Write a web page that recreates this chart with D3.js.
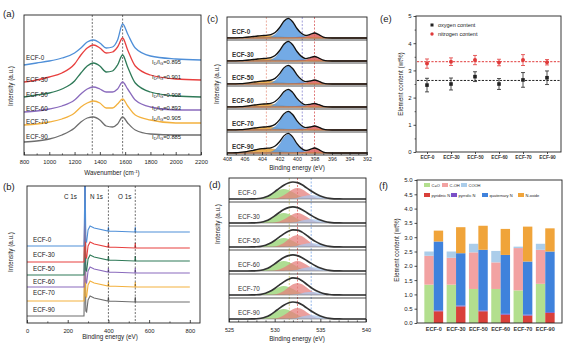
<!DOCTYPE html>
<html><head><meta charset="utf-8">
<script src="https://cdn.jsdelivr.net/npm/d3@7/dist/d3.min.js"></script>
<style>
body{margin:0;background:#fff}
svg{display:block}
text{font-family:"Liberation Sans",Arial,sans-serif;fill:#222}
</style>
</head><body>
<svg id="chart" width="576" height="348"></svg>
<script>
// ---------------- DATA ----------------
const samples = ["ECF-0","ECF-30","ECF-50","ECF-60","ECF-70","ECF-90"];

// (a) Raman spectra (intensity, a.u., offset stacked)
const ramanX = [800,900,1000,1100,1200,1250,1300,1350,1400,1450,1500,1540,1580,1620,1680,1800,2000,2200];
const ramanECF0  = [90,92,94,97,102,107,113,115,112,107,108,115,131,121,107,99,96,95];
const ramanECF30 = [73,75,78,82,91,100,107,110,107,102,103,108,117,105,89,80,76,75];
const ramanECF50 = [58,60,62,66,74,82,89,92,89,83,84,90,100,88,72,63,59,58];
const ramanECF60 = [43,44,46,49,55,61,66,68,66,63,63,66,73,66,55,48,45,45];
const ramanECF70 = [30,31,33,36,42,48,52,54,52,47,47,51,56,49,40,35,32,32];
const ramanECF90 = [13,14,16,20,27,33,37,38,35,29,28,31,38,32,25,21,20,20];
const idigRatios = ["0.895","0.901","0.908","0.893","0.905","0.885"];
const ramanTicks = [800,1000,1200,1400,1600,1800,2000,2200];
const ramanBands = [1340,1580];

// (b) XPS survey: common profile + per-sample offsets
const surveyX = [0,280,283,285,287,289,293,300,310,330,398,400,402,530,532,534,800];
const surveyProfile = [0,0,40,200,40,5,4,16,20,18,15,19,15,14,19,14,14];
const surveyOffsets = [77,61,48,36,22,7];
const surveyTicks = [0,200,400,600,800];
const surveyLines = [400,532];
const surveyPeakLabels = [["C 1s",64],["N 1s",90],["O 1s",118]];

// (c) N 1s fitted components on a 0.5 eV grid (408 -> 392)
const n1sX = [408,407.5,407,406.5,406,405.5,405,404.5,404,403.5,403,402.5,402,401.5,401,400.5,400,399.5,399,398.5,398,397.5,397,396.5,396,395.5,395,394.5,394,393.5,393,392.5,392];
const n1sOxideShape = [0.01,0.03,0.06,0.13,0.24,0.40,0.60,0.80,0.95,1,0.95,0.80,0.60,0.40,0.24,0.13,0.06,0.03,0.01,0,0,0,0,0,0,0,0,0,0,0,0,0,0];
const n1sQuatShape  = [0,0,0,0,0,0,0,0,0,0.01,0.05,0.18,0.46,0.83,1,0.83,0.46,0.18,0.05,0.01,0,0,0,0,0,0,0,0,0,0,0,0,0];
const n1sPyrrShape  = [0,0,0,0,0,0,0,0,0,0,0,0,0,0,0,0.17,0.6,1,0.6,0.17,0.02,0,0,0,0,0,0,0,0,0,0,0,0];
const n1sPyriShape  = [0,0,0,0,0,0,0,0,0,0,0,0,0,0,0,0,0,0.03,0.19,0.66,1,0.66,0.19,0.03,0,0,0,0,0,0,0,0,0];
const n1sOxideH = [2.5,2.5,3,3,3,4.5];
const n1sQuatH  = [19,19,18,17,18,18.5];
const n1sPyrrH  = [1,1,1,1,1,1];
const n1sPyriH  = [5,4.5,4,3.5,4,5];
const n1sTicks = [408,406,404,402,400,398,396,394,392];
const n1sLines = [403.5,399.4,398.0];

// (d) O 1s fitted components on a 0.5 eV grid (525 -> 540)
const o1sX = [525,525.5,526,526.5,527,527.5,528,528.5,529,529.5,530,530.5,531,531.5,532,532.5,533,533.5,534,534.5,535,535.5,536,536.5,537,537.5,538,538.5,539,539.5,540];
const o1sCOShape   = [0,0,0,0,0.001,0.007,0.025,0.077,0.194,0.397,0.664,0.902,1,0.902,0.664,0.397,0.194,0.077,0.025,0.007,0.001,0,0,0,0,0,0,0,0,0,0];
const o1sCOHShape  = [0,0,0,0,0,0,0,0,0.003,0.013,0.049,0.146,0.339,0.618,0.887,1,0.887,0.618,0.339,0.146,0.049,0.013,0.003,0,0,0,0,0,0,0,0];
const o1sCOOHShape = [0,0,0,0,0,0,0,0,0,0,0,0.003,0.013,0.049,0.146,0.339,0.618,0.887,1,0.887,0.618,0.339,0.146,0.049,0.013,0.003,0,0,0,0,0];
const o1sCOHeights   = [10,10,9,10,9,10];
const o1sCOHHeights  = [11,10,12,10,12,11];
const o1sCOOHHeights = [4,4,4,4,3,4];
const o1sTicks = [525,530,535,540];
const o1sLines = [531.6,532.5,534.0];

// (e) element content
const oxygenContent  = [2.46,2.50,2.77,2.50,2.65,2.73];
const oxygenErr      = [0.25,0.22,0.18,0.20,0.27,0.25];
const nitrogenContent= [3.25,3.32,3.38,3.29,3.38,3.30];
const nitrogenErr    = [0.17,0.14,0.17,0.12,0.20,0.10];
const oxygenMean = 2.63, nitrogenMean = 3.32;
const contentTicks = [0,1,2,3,4,5];

// (f) composition (wt%)
const oCO   = [1.34,1.34,1.19,1.19,1.14,1.37];
const oCOH  = [1.01,0.94,1.28,0.93,1.48,1.19];
const oCOOH = [0.15,0.22,0.30,0.40,0.05,0.21];
const nPyridinic  = [0.41,0.58,0.41,0.29,0.26,0.35];
const nPyrrolic   = [0.03,0.03,0.03,0.03,0.03,0.03];
const nQuaternary = [2.41,1.83,2.12,2.06,1.86,2.12];
const nOxide      = [0.38,0.91,0.84,0.91,1.22,0.81];
const compTicks = [0,0.5,1,1.5,2,2.5,3,3.5,4,4.5,5];

// ---------------- STYLE ----------------
const sampleColors = ["#4f8fd8","#e8403f","#2f7a58","#8a6bbd","#f3b13e","#6e6e6e"];
const FONT = '"Liberation Sans",Arial,sans-serif';
const svg = d3.select("#chart");

function frame(x0,y0,x1,y1){
  svg.append("rect").attr("x",x0).attr("y",y0).attr("width",x1-x0).attr("height",y1-y0)
    .attr("fill","none").attr("stroke","#222").attr("stroke-width",0.9);
}
function label(x,y,s,size,opts={}){
  const t = svg.append("text").attr("x",x).attr("y",y).attr("font-size",size).text(s);
  if(opts.anchor) t.attr("text-anchor",opts.anchor);
  if(opts.weight) t.attr("font-weight",opts.weight);
  if(opts.rotate) t.attr("transform",`rotate(-90,${x},${y})`);
  if(opts.fill) t.style("fill",opts.fill);
  return t;
}
function bottomAxis(scale,y,ticks,minor,labelY,fmt,size){
  const g = svg.append("g").attr("transform",`translate(0,${y})`);
  g.call(d3.axisBottom(scale).tickValues(ticks).tickSize(-3).tickPadding(labelY).tickFormat(fmt));
  g.select(".domain").remove();
  g.selectAll("line").attr("stroke","#222").attr("stroke-width",0.8);
  g.selectAll("text").attr("font-size",size).attr("font-family",FONT).style("fill","#222");
  if(minor){
    const m = svg.append("g").attr("transform",`translate(0,${y})`);
    m.call(d3.axisBottom(scale).tickValues(minor).tickSize(-1.6).tickFormat(""));
    m.select(".domain").remove();
    m.selectAll("line").attr("stroke","#222").attr("stroke-width",0.7);
  }
  return g;
}
function clip(id,x0,y0,x1,y1){
  svg.append("clipPath").attr("id",id).append("rect").attr("x",x0).attr("y",y0).attr("width",x1-x0).attr("height",y1-y0);
}

// ---------------- (a) Raman ----------------
{
  const x = d3.scaleLinear().domain([800,2200]).range([24,201]);
  const y = d3.scaleLinear().domain([0,140]).range([155,15]);
  const series = [ramanECF0,ramanECF30,ramanECF50,ramanECF60,ramanECF70,ramanECF90];
  ramanBands.forEach(b=>svg.append("line").attr("x1",x(b)).attr("x2",x(b)).attr("y1",15).attr("y2",155)
    .attr("stroke","#333").attr("stroke-width",0.7).attr("stroke-dasharray","2,1.5"));
  const line = d3.line().x((d,i)=>x(ramanX[i])).y(d=>y(d)).curve(d3.curveMonotoneX);
  series.forEach((s,i)=>svg.append("path").attr("d",line(s)).attr("fill","none")
    .attr("stroke",sampleColors[i]).attr("stroke-width",1.3));
  const leftY = [60,82,97,111,124,139];
  const rightY = [64,79,97,110,120,139];
  samples.forEach((s,i)=>label(26,leftY[i],s,6.3));
  idigRatios.forEach((r,i)=>{
    const t = svg.append("text").attr("x",152).attr("y",rightY[i]).attr("font-size",5.8);
    t.append("tspan").text("I");
    t.append("tspan").attr("dy",1.3).attr("font-size",4.2).text("D");
    t.append("tspan").attr("dy",-1.3).text("/I");
    t.append("tspan").attr("dy",1.3).attr("font-size",4.2).text("G");
    t.append("tspan").attr("dy",-1.3).text("="+r);
  });
  frame(24,15,201,155);
  bottomAxis(x,155,ramanTicks,d3.range(900,2200,200),5,d3.format("d"),5.8);
  const t = svg.append("text").attr("x",112).attr("y",175).attr("font-size",6.3).attr("text-anchor","middle");
  t.append("tspan").text("Wavenumber (cm");
  t.append("tspan").attr("dy",-2).attr("font-size",4.3).text("-1");
  t.append("tspan").attr("dy",2).text(")");
  label(13,86,"Intensity (a.u.)",6.3,{anchor:"middle",rotate:true});
  label(3,17,"(a)",9.5);
}

// ---------------- (b) XPS survey ----------------
{
  const x = d3.scaleLinear().domain([0,850]).range([27,200]);
  const y = d3.scaleLinear().domain([0,137]).range([323,186]);
  clip("clipB",27,186,200,323);
  const g = svg.append("g").attr("clip-path","url(#clipB)");
  surveyLines.forEach(b=>svg.append("line").attr("x1",x(b)).attr("x2",x(b)).attr("y1",186).attr("y2",323)
    .attr("stroke","#333").attr("stroke-width",0.7).attr("stroke-dasharray","2,1.5"));
  const line = d3.line().x((d,i)=>x(surveyX[i])).y(d=>y(d));
  for(let i=samples.length-1;i>=0;i--){
    const vals = surveyProfile.map(v=>v+surveyOffsets[i]);
    g.append("path").attr("d",line(vals)).attr("fill","none").attr("stroke",sampleColors[i]).attr("stroke-width",1.1);
  }
  const labY = [242,257,271,284,295,312];
  samples.forEach((s,i)=>label(33,labY[i],s,6.3));
  surveyPeakLabels.forEach(p=>label(p[1],199,p[0],6.3));
  frame(27,186,200,323);
  bottomAxis(x,323,surveyTicks,[100,300,500,700],5.5,d3.format("d"),5.8);
  label(110,339,"Binding energy (eV)",6.3,{anchor:"middle"});
  label(13,252,"Intensity (a.u.)",6.3,{anchor:"middle",rotate:true});
  label(3,190,"(b)",9.5);
}

// ---------------- (c) N 1s ----------------
{
  const x = d3.scaleLinear().domain([408,392]).range([227,367]);
  const top = 17, h = 23;
  const comps = [
    [n1sOxideShape,n1sOxideH,"#e6a23a"],
    [n1sQuatShape,n1sQuatH,"#5b9be0"],
    [n1sPyrrShape,n1sPyrrH,"#7a5bb0"],
    [n1sPyriShape,n1sPyriH,"#d9605e"]
  ];
  const lineColors = ["#e89a8a","#8a86d0","#d85a5a"];
  n1sLines.forEach((b,k)=>svg.append("line").attr("x1",x(b)).attr("x2",x(b)).attr("y1",17).attr("y2",155)
    .attr("stroke",lineColors[k]).attr("stroke-width",0.8).attr("stroke-dasharray","2,1.5"));
  samples.forEach((s,i)=>{
    const base = top + h*(i+1) - 2;
    const y = d3.scaleLinear().domain([0,22]).range([base,base-22]);
    const area = d3.area().x((d,j)=>x(n1sX[j])).y0(base).y1(d=>y(d)).curve(d3.curveMonotoneX);
    const line = d3.line().x((d,j)=>x(n1sX[j])).y(d=>y(d)).curve(d3.curveMonotoneX);
    const env = n1sX.map(()=>0);
    comps.forEach(([shape,H,col])=>{
      const vals = shape.map(v=>v*H[i]);
      vals.forEach((v,j)=>env[j]+=v);
      svg.append("path").attr("d",area(vals)).attr("fill",col).attr("fill-opacity",0.85)
        .attr("stroke",d3.color(col).darker(0.6)).attr("stroke-width",0.4);
    });
    svg.append("line").attr("x1",227).attr("x2",367).attr("y1",base).attr("y2",base).attr("stroke","#e6a23a").attr("stroke-width",0.8);
    svg.append("path").attr("d",line(env)).attr("fill","none").attr("stroke","#111").attr("stroke-width",1.3);
    label(232,top+h*i+17,s,6.3,{weight:"bold"}).style("fill","#333");
    if(i<5) svg.append("line").attr("x1",227).attr("x2",367).attr("y1",top+h*(i+1)).attr("y2",top+h*(i+1)).attr("stroke","#222").attr("stroke-width",0.8);
  });
  frame(227,17,367,155);
  bottomAxis(x,155,n1sTicks,[407,405,403,401,399,397,395,393],2,d3.format("d"),5.3);
  label(297,169.5,"Binding energy (eV)",6.3,{anchor:"middle"});
  label(219,84,"Intensity (a.u.)",6.3,{anchor:"middle",rotate:true});
  label(207,22,"(c)",9.5);
}

// ---------------- (d) O 1s ----------------
{
  const x = d3.scaleLinear().domain([525,540]).range([229,366]);
  const top = 178, h = 24;
  const comps = [
    [o1sCOShape,o1sCOHeights,"#93d26e"],
    [o1sCOHShape,o1sCOHHeights,"#e57f7c"],
    [o1sCOOHShape,o1sCOOHHeights,"#a9c7ee"]
  ];
  const lineColors = ["#c9c46a","#d85a5a","#7aa6e6"];
  o1sLines.forEach((b,k)=>svg.append("line").attr("x1",x(b)).attr("x2",x(b)).attr("y1",178).attr("y2",322)
    .attr("stroke",lineColors[k]).attr("stroke-width",0.8).attr("stroke-dasharray","2,1.5"));
  samples.forEach((s,i)=>{
    const base = top + h*(i+1) - 3;
    const y = d3.scaleLinear().domain([0,22]).range([base,base-22]);
    const area = d3.area().x((d,j)=>x(o1sX[j])).y0(base).y1(d=>y(d)).curve(d3.curveMonotoneX);
    const line = d3.line().x((d,j)=>x(o1sX[j])).y(d=>y(d)).curve(d3.curveMonotoneX);
    const env = o1sX.map(()=>0);
    comps.forEach(([shape,H,col])=>{
      const vals = shape.map(v=>v*H[i]);
      vals.forEach((v,j)=>env[j]+=v);
      svg.append("path").attr("d",area(vals)).attr("fill",col).attr("fill-opacity",0.75);
    });
    svg.append("line").attr("x1",229).attr("x2",366).attr("y1",base).attr("y2",base).attr("stroke","#777").attr("stroke-width",0.6);
    svg.append("path").attr("d",line(env)).attr("fill","none").attr("stroke","#333").attr("stroke-width",1.7);
    label(238,top+h*i+17,s,6.3).style("fill","#333");
    if(i<5) svg.append("line").attr("x1",229).attr("x2",366).attr("y1",top+h*(i+1)).attr("y2",top+h*(i+1)).attr("stroke","#222").attr("stroke-width",0.8);
  });
  frame(229,178,366,322);
  bottomAxis(x,322,o1sTicks,[526,527,528,529,531,532,533,534,536,537,538,539],6,d3.format("d"),5.5);
  label(297,341,"Binding energy (eV)",6.3,{anchor:"middle"});
  label(220,224,"Intensity (a.u.)",6.3,{anchor:"middle",rotate:true});
  label(209,188,"(d)",9.5);
}

// ---------------- (e) Element content ----------------
{
  const x = d3.scalePoint().domain(samples).range([427,547]);
  const y = d3.scaleLinear().domain([0,5]).range([152,16]);
  [[nitrogenMean,"#e03a3a"],[oxygenMean,"#222"]].forEach(([m,c])=>
    svg.append("line").attr("x1",417).attr("x2",560).attr("y1",y(m)).attr("y2",y(m))
      .attr("stroke",c).attr("stroke-width",1).attr("stroke-dasharray","2.2,1.4"));
  function errs(vals,err,col){
    vals.forEach((v,i)=>{
      const cx = x(samples[i]);
      svg.append("line").attr("x1",cx).attr("x2",cx).attr("y1",y(v-err[i])).attr("y2",y(v+err[i])).attr("stroke",col).attr("stroke-width",0.8);
      [v-err[i],v+err[i]].forEach(e=>svg.append("line").attr("x1",cx-2).attr("x2",cx+2).attr("y1",y(e)).attr("y2",y(e)).attr("stroke",col).attr("stroke-width",0.8));
    });
  }
  errs(oxygenContent,oxygenErr,"#222");
  errs(nitrogenContent,nitrogenErr,"#e03a3a");
  oxygenContent.forEach((v,i)=>svg.append("rect").attr("x",x(samples[i])-1.8).attr("y",y(v)-1.8).attr("width",3.6).attr("height",3.6).attr("fill","#222"));
  nitrogenContent.forEach((v,i)=>svg.append("circle").attr("cx",x(samples[i])).attr("cy",y(v)).attr("r",2).attr("fill","#e03a3a"));
  svg.append("rect").attr("x",430.5).attr("y",23.5).attr("width",3).attr("height",3).attr("fill","#222");
  label(438,27,"oxygen content",5.5);
  svg.append("circle").attr("cx",432).attr("cy",34).attr("r",1.7).attr("fill","#e03a3a");
  label(438,36,"nitrogen content",5.5);
  frame(416,16,561,152);
  const gy = svg.append("g").attr("transform","translate(416,0)");
  gy.call(d3.axisLeft(y).tickValues(contentTicks).tickSize(2.5).tickPadding(2).tickFormat(d3.format("d")));
  gy.select(".domain").remove();
  gy.selectAll("line").attr("stroke","#222").attr("stroke-width",0.8);
  gy.selectAll("text").attr("font-size",6).attr("font-family",FONT).style("fill","#222");
  const gm = svg.append("g").attr("transform","translate(416,0)");
  gm.call(d3.axisLeft(y).tickValues([0.5,1.5,2.5,3.5,4.5]).tickSize(1.4).tickFormat(""));
  gm.select(".domain").remove();
  gm.selectAll("line").attr("stroke","#222").attr("stroke-width",0.7);
  const gx = svg.append("g").attr("transform","translate(0,152)");
  gx.call(d3.axisBottom(x).tickSize(2).tickPadding(2));
  gx.select(".domain").remove();
  gx.selectAll("line").attr("stroke","#222").attr("stroke-width",0.8);
  gx.selectAll("text").attr("font-size",4.8).attr("font-weight","bold").attr("font-family",FONT).style("fill","#333");
  label(403,84,"Element content (wt%)",6.3,{anchor:"middle",rotate:true});
  label(380,22,"(e)",9.5);
}

// ---------------- (f) Composition ----------------
{
  const x = d3.scaleBand().domain(samples).range([422.6,556.4]);
  const y = d3.scaleLinear().domain([0,5]).range([323,180]);
  const bw = 9.4;
  const oStack = [[oCO,"#b3df8e"],[oCOH,"#f2a2a2"],[oCOOH,"#abcdea"]];
  const nStack = [[nPyridinic,"#d9403a"],[nPyrrolic,"#7a4fc7"],[nQuaternary,"#3f82dc"],[nOxide,"#f0a43a"]];
  function stack(list,offset){
    samples.forEach((s,i)=>{
      let acc = 0;
      list.forEach(([vals,col])=>{
        const x0 = x(s)+x.bandwidth()/2+offset;
        svg.append("rect").attr("x",x0).attr("y",y(acc+vals[i])).attr("width",bw)
          .attr("height",y(acc)-y(acc+vals[i])).attr("fill",col);
        acc += vals[i];
      });
    });
  }
  stack(oStack,-bw);
  stack(nStack,0);
  // legend
  const leg1 = [["C=O","#b3df8e",424],["C-OH","#f2a2a2",442],["COOH","#abcdea",461]];
  const leg2 = [["pyridinic N","#d9403a",424],["pyrrolic N","#7a4fc7",451],["quaternary N","#3f82dc",482],["N-oxide","#f0a43a",518]];
  leg1.forEach(([t,c,lx])=>{svg.append("rect").attr("x",lx).attr("y",183).attr("width",6).attr("height",4).attr("fill",c);label(lx+7.5,186.8,t,4);});
  leg2.forEach(([t,c,lx])=>{svg.append("rect").attr("x",lx).attr("y",193).attr("width",6).attr("height",4).attr("fill",c);label(lx+7.5,196.8,t,4);});
  frame(417,180,562,323);
  const gy = svg.append("g").attr("transform","translate(417,0)");
  gy.call(d3.axisLeft(y).tickValues(compTicks).tickSize(2.5).tickPadding(2).tickFormat(d3.format(".1f")));
  gy.select(".domain").remove();
  gy.selectAll("line").attr("stroke","#222").attr("stroke-width",0.8);
  gy.selectAll("text").attr("font-size",6).attr("font-family",FONT).style("fill","#222");
  const gx = svg.append("g").attr("transform","translate(0,323)");
  gx.call(d3.axisBottom(x).tickSize(0).tickPadding(4));
  gx.select(".domain").remove();
  gx.selectAll("text").attr("font-size",5.5).attr("font-weight","bold").attr("font-family",FONT).style("fill","#333");
  label(399,250,"Element content (wt%)",6.3,{anchor:"middle",rotate:true});
  label(379,189,"(f)",9.5);
}
</script>
</body></html>
